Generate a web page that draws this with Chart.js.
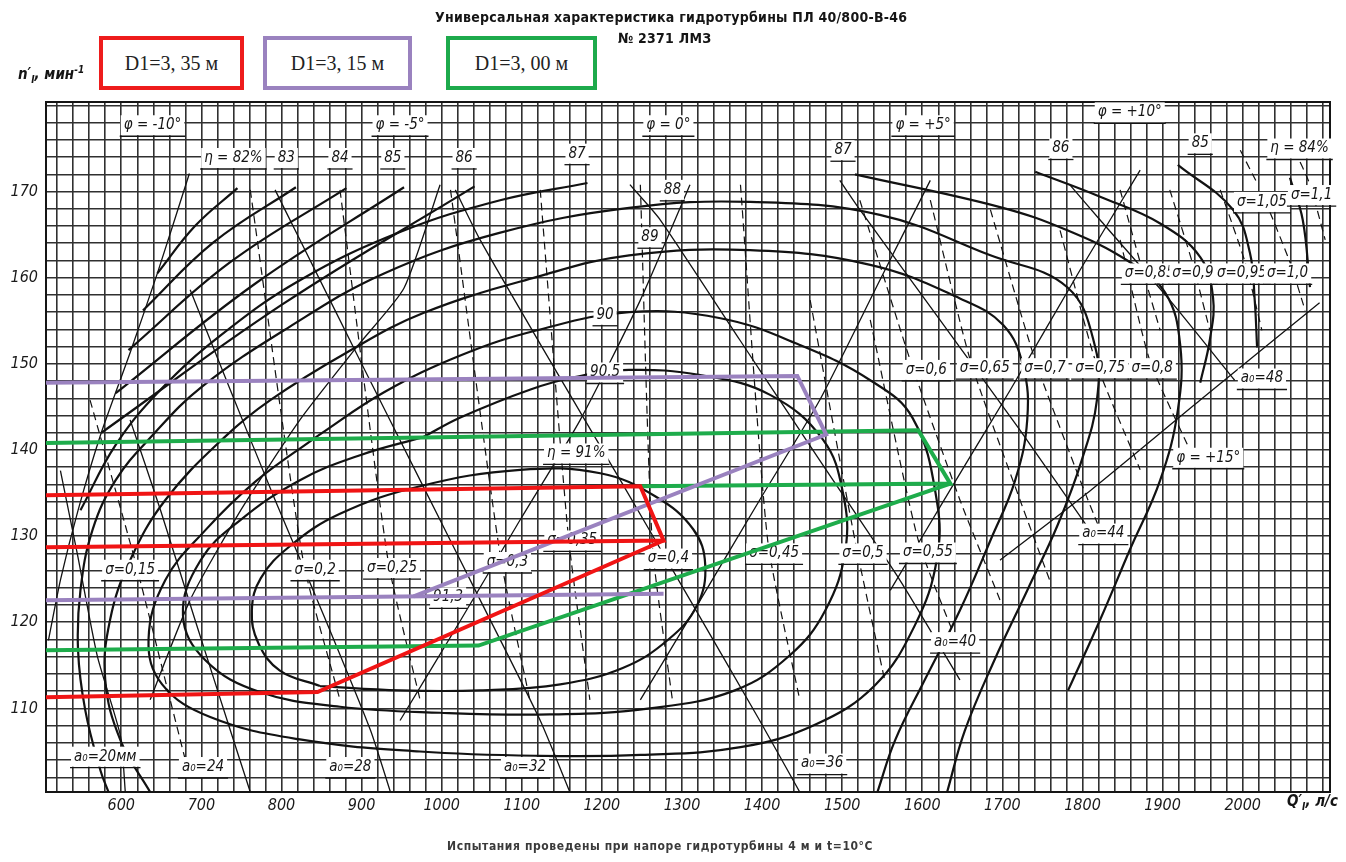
<!DOCTYPE html>
<html>
<head>
<meta charset="utf-8">
<script src="https://cdn.jsdelivr.net/npm/chart.js@4.4.1/dist/chart.umd.min.js"></script>
<style>
  html, body { margin: 0; padding: 0; background: #fff; }
  #wrap { position: relative; width: 1346px; height: 862px; overflow: hidden; background: #fff; }
  #c { position: absolute; left: 0; top: 0; }
  .t { position: absolute; white-space: nowrap; color: #151515; }
  .title { font: bold 14px "DejaVu Sans Condensed", "DejaVu Sans", sans-serif; letter-spacing: 0.25px; }
  .box { position: absolute; box-sizing: border-box; height: 54px; top: 36px; border: 4px solid; background: #fff;
         font: 20px "Liberation Serif", serif; color: #222; display: flex; align-items: center; justify-content: center; }
  .axt { font: italic bold 15px "DejaVu Sans Condensed", "DejaVu Sans", sans-serif; }
  .axt sub, .axt sup { font-size: 10px; }
  .note { font: bold 12px "DejaVu Sans Condensed", "DejaVu Sans", sans-serif; color: #3a3a3a; letter-spacing: 0.6px; }
</style>
</head>
<body>
<div id="wrap">
  <canvas id="c" width="1346" height="862"></canvas>
  <div class="t title" style="left:435px; top:9px;">Универсальная характеристика гидротурбины ПЛ 40/800-В-46</div>
  <div class="t title" style="left:618px; top:30px;">№ 2371 ЛМЗ</div>
  <div class="box" style="left:99px; width:145px; border-color:#ee1c1c;">D1=3, 35 м</div>
  <div class="box" style="left:263px; width:149px; border-color:#9a82bf;">D1=3, 15 м</div>
  <div class="box" style="left:446px; width:151px; border-color:#1daa4c;">D1=3, 00 м</div>
  <div class="t axt" style="left:18px; top:64px;">n′<sub>I</sub>, мин<sup>-1</sup></div>
  <div class="t axt" style="left:1287px; top:792px;">Q′<sub>I</sub>, л/с</div>
  <div class="t note" style="left:447px; top:839px;">Испытания проведены при напоре гидротурбины 4 м и t=10°C</div>
</div>
<script>
// ---- axes ----
const Q_MIN = 506, Q_MAX = 2109;      // Q'1, l/s
const N_MIN = 100.3, N_MAX = 180.4;   // n'1, rpm
const qTickLabels = [600, 700, 800, 900, 1000, 1100, 1200, 1300, 1400, 1500, 1600, 1700, 1800, 1900, 2000];
const nTickLabels = [110, 120, 130, 140, 150, 160, 170];

// ---- operating zones for three runner diameters ----
const redQ = [506, 1248, 1277, 506];
const redN = [134.75, 135.8, 129.5, 128.7];
const redLowQ = [1277, 845, 506];
const redLowN = [129.5, 111.9, 111.3];

const purpleQ = [506, 1444, 1480, 965];
const purpleN = [147.8, 148.6, 141.8, 123.0];
const purpleLowQ = [506, 1277];
const purpleLowN = [122.55, 123.3];

const greenQ = [506, 1595, 1635, 1248];
const greenN = [140.8, 142.3, 136.1, 135.8];
const greenLowQ = [1635, 1046, 506];
const greenLowN = [136.1, 117.3, 116.75];

// ---- efficiency contours ----
const eta91Q = [848, 798, 771, 763, 774, 810, 873, 973, 1098, 1198, 1267, 1314, 1329, 1319, 1283, 1226, 1148, 1048, 948, 848];
const eta91N = [112.6, 114.4, 117.6, 121.4, 125.1, 128.8, 132.6, 135.8, 137.7, 137.3, 134.6, 130.8, 126.7, 122.0, 118.0, 114.7, 112.8, 112.1, 112.1, 112.6];

const eta905Q = [977, 1024, 1110, 1168, 1234, 1323, 1410, 1476, 1501, 1504, 1479, 1435, 1366, 1260, 1135, 998, 873, 773, 705, 677, 699, 749, 823, 898, 977];
const eta905N = [141.5, 143.8, 147.0, 148.5, 149.3, 148.7, 146.4, 141.2, 135.0, 128.4, 121.4, 116.2, 112.1, 110.0, 109.3, 109.5, 110.2, 111.9, 115.6, 120.8, 127.2, 131.9, 136.5, 139.4, 141.5];

const eta90Q = [843, 928, 1024, 1119, 1234, 1348, 1447, 1535, 1588, 1618, 1618, 1591, 1541, 1466, 1373, 1248, 1123, 973, 823, 711, 651, 634, 655, 705, 767, 843];
const eta90N = [141.5, 146.7, 151.0, 153.9, 156.0, 155.3, 152.2, 148.1, 143.7, 134.2, 127.2, 119.7, 112.7, 108.1, 105.5, 104.6, 104.5, 105.0, 106.4, 109.0, 112.8, 118.0, 124.9, 130.7, 136.3, 141.5];

const eta89Q = [636, 599, 580, 586, 611, 655, 729, 786, 881, 977, 1119, 1234, 1385, 1535, 1647, 1701, 1726, 1731, 1716, 1685, 1647, 1603, 1566, 1544];
const eta89N = [100.3, 106.3, 113.3, 120.3, 127.2, 134.2, 141.5, 145.8, 151.3, 155.9, 160.1, 162.6, 163.2, 161.5, 157.6, 154.5, 149.7, 143.5, 136.5, 129.5, 121.4, 113.3, 106.3, 100.3];

const eta88Q = [584, 574, 555, 546, 549, 564, 593, 637, 700, 810, 928, 1072, 1234, 1385, 1547, 1685, 1781, 1816, 1818, 1799, 1769, 1731, 1690, 1653, 1631];
const eta88N = [100.3, 102.8, 109.8, 116.8, 123.7, 130.7, 136.5, 141.5, 147.3, 154.3, 160.5, 165.2, 168.1, 168.8, 167.3, 162.6, 158.9, 151.9, 145.8, 138.8, 131.3, 123.7, 115.6, 107.4, 100.3];

const eta87Q = [1182, 1073, 948, 823, 724, 649, 593, 549];
const eta87N = [171.0, 169.0, 165.3, 159.7, 153.3, 147.0, 140.6, 133.0];
const eta86Q = [1041, 801, 575];
const eta86N = [170.6, 156.9, 142.0];
const eta85Q = [953, 767, 593];
const eta85N = [170.5, 159.3, 146.6];
const eta84Q = [881, 736, 609];
const eta84N = [170.4, 161.8, 151.6];
const eta83Q = [818, 715, 627];
const eta83N = [170.5, 164.1, 156.2];
const eta82Q = [745, 692, 645];
const eta82N = [170.4, 166.0, 160.5];

const eta87rQ = [1516, 1697, 1781, 1856, 1903, 1922, 1919, 1897, 1859, 1822, 1782];
const eta87rN = [172.0, 168.2, 165.5, 162.0, 158.3, 152.2, 144.6, 136.5, 128.4, 120.3, 112.1];
const eta86rQ = [1741, 1822, 1897, 1947, 1963, 1959, 1947];
const eta86rN = [172.3, 169.4, 166.3, 162.4, 157.7, 152.8, 147.8];
const eta85rQ = [1919, 1988, 2009, 2015, 2018];
const eta85rN = [173.1, 167.9, 162.9, 157.4, 151.9];
const eta84rQ = [2059, 2075, 2084];
const eta84rN = [171.6, 166.7, 158.9];

// ---- blade angle lines (phi) ----
const phiQ = [
  [685, 645, 611, 575, 546, 524, 509],
  [998, 953, 896, 823, 749, 686, 636],
  [1310, 1248, 1173, 1098, 1024, 948],
  [1610, 1547, 1472, 1397, 1323, 1248],
  [1872, 1797, 1710, 1635, 1560],
  [2096, 1947, 1806, 1697]
];
const phiN = [
  [172.1, 160.5, 151.3, 142.0, 133.0, 124.9, 117.9],
  [170.8, 158.8, 152.2, 143.5, 133.0, 122.6, 111.0],
  [170.8, 157.4, 143.5, 131.9, 120.3, 108.6],
  [171.3, 159.7, 145.8, 134.2, 122.6, 111.0],
  [172.5, 160.9, 147.0, 135.4, 123.7],
  [157.1, 145.8, 135.0, 127.2]
];

// ---- guide vane opening lines (a0) ----
const a0Q = [
  [605, 599, 570, 545, 524],
  [761, 736, 692, 649, 611],
  [936, 911, 855, 792, 736, 686],
  [1160, 1123, 1048, 973, 898, 823, 792],
  [1447, 1397, 1310, 1223, 1135, 1048, 1017],
  [1647, 1572, 1472, 1372, 1273, 1235],
  [1809, 1722, 1622, 1522, 1497],
  [1990, 1909, 1822, 1784]
];
const a0N = [
  [100.3, 106.8, 116.1, 128.0, 137.6],
  [100.3, 107.5, 120.3, 133.0, 143.5],
  [100.3, 107.5, 120.3, 134.2, 147.0, 158.6],
  [100.3, 108.6, 122.6, 136.5, 150.4, 164.4, 170.2],
  [100.3, 108.6, 122.6, 136.5, 150.4, 164.4, 170.2],
  [113.3, 124.9, 138.8, 152.8, 166.7, 170.8],
  [130.7, 142.3, 155.1, 167.9, 171.3],
  [148.1, 157.4, 166.7, 170.8]
];

// ---- cavitation coefficient lines (sigma) ----
const sigmaQ = [
  [561, 617, 661, 680], [761, 827, 873], [873, 933, 973], [1011, 1073, 1110], [1123, 1158, 1185],
  [1248, 1263, 1288], [1373, 1407, 1447], [1460, 1516, 1553], [1535, 1595, 1647],
  [1522, 1585, 1647, 1697], [1610, 1660, 1722, 1759], [1685, 1741, 1797, 1822], [1772, 1816, 1872], [1847, 1884, 1934],
  [1847, 1872, 1897], [1909, 1937, 1959], [1972, 2003, 2024], [2028, 2059, 2078],
  [1997, 2019], [2065, 2084, 2103]
];
const sigmaN = [
  [145.8, 127.2, 111.0, 104.0], [170.2, 127.2, 111.0], [170.2, 127.2, 111.0], [170.2, 127.8, 111.0], [170.2, 130.1, 111.0],
  [170.8, 129.0, 111.0], [170.8, 129.5, 111.0], [157.4, 129.5, 113.3], [155.1, 129.5, 116.8],
  [169.0, 150.4, 134.2, 122.6], [169.0, 150.4, 134.2, 124.9], [167.9, 150.4, 136.5, 130.7], [165.5, 150.4, 137.7], [164.4, 150.4, 140.0],
  [170.2, 161.8, 153.9], [170.2, 161.8, 153.9], [170.2, 161.8, 153.9], [169.0, 161.8, 156.2],
  [174.8, 170.8], [174.8, 170.8, 164.4]
];

// ---- curve captions: text, Q'1, n'1 ----
const captions = [
  ['φ = -10°', 639, 177.7], ['φ = -5°', 948, 177.7], ['φ = 0°', 1283, 177.7], ['φ = +5°', 1601, 177.7],
  ['φ = +10°', 1859, 179.2], ['φ = +15°', 1957, 139.1],
  ['η = 82%', 740, 173.9], ['83', 806, 173.9], ['84', 873, 173.9], ['85', 939, 173.9], ['86', 1028, 173.9], ['87', 1169, 174.4],
  ['88', 1288, 170.2], ['89', 1260, 164.7], ['90', 1204, 155.7], ['90,5', 1204, 149.0], ['η = 91%', 1168, 139.6], ['91,3', 1008, 122.9],
  ['87', 1501, 174.8], ['86', 1773, 175.0], ['85', 1947, 175.6], ['η = 84%', 2071, 175.0],
  ['σ=0,15', 611, 126.1], ['σ=0,2', 842, 126.1], ['σ=0,25', 938, 126.3], ['σ=0,3', 1082, 127.0], ['σ=0,35', 1163, 129.5],
  ['σ=0,4', 1283, 127.4], ['σ=0,45', 1415, 128.0], ['σ=0,5', 1526, 128.0], ['σ=0,55', 1607, 128.1],
  ['σ=0,6', 1605, 149.3], ['σ=0,65', 1678, 149.5], ['σ=0,7', 1753, 149.5], ['σ=0,75', 1822, 149.5], ['σ=0,8', 1887, 149.5],
  ['σ=0,85', 1884, 160.5], ['σ=0,9', 1938, 160.5], ['σ=0,95', 1999, 160.5], ['σ=1,0', 2056, 160.5],
  ['σ=1,05', 2024, 168.8], ['σ=1,1', 2086, 169.6],
  ['a₀=20мм', 580, 104.4], ['a₀=24', 702, 103.2], ['a₀=28', 886, 103.2], ['a₀=32', 1104, 103.2], ['a₀=36', 1475, 103.6],
  ['a₀=40', 1641, 117.7], ['a₀=44', 1826, 130.3], ['a₀=48', 2024, 148.3]
];

// ---- build datasets ----
const pts = (qs, ns) => qs.map((q, i) => ({ x: q, y: ns[i] }));
const datasets = [];
function overlay(qs, ns, color) {
  datasets.push({ data: pts(qs, ns), borderColor: color, borderWidth: 4, tension: 0, order: 0, overlay: true });
}
function curve(qs, ns, width, dash, tension) {
  datasets.push({ data: pts(qs, ns), borderColor: '#121212', borderWidth: width, borderDash: dash || [], tension: tension, order: 5 });
}
overlay(redQ, redN, '#f01414');
overlay(redLowQ, redLowN, '#f01414');
overlay(purpleQ, purpleN, '#9a82bf');
overlay(purpleLowQ, purpleLowN, '#9a82bf');
overlay(greenQ, greenN, '#1eac4b');
overlay(greenLowQ, greenLowN, '#1eac4b');

[[eta91Q, eta91N], [eta905Q, eta905N], [eta90Q, eta90N], [eta89Q, eta89N], [eta88Q, eta88N], [eta87Q, eta87N],
 [eta86Q, eta86N], [eta85Q, eta85N], [eta84Q, eta84N], [eta83Q, eta83N], [eta82Q, eta82N],
 [eta87rQ, eta87rN], [eta86rQ, eta86rN], [eta85rQ, eta85rN], [eta84rQ, eta84rN]]
  .forEach(([q, n]) => curve(q, n, 2.2, null, 0.4));
phiQ.forEach((q, i) => curve(q, phiN[i], 1.3, null, 0.2));
a0Q.forEach((q, i) => curve(q, a0N[i], 1.3, null, 0.2));
sigmaQ.forEach((q, i) => curve(q, sigmaN[i], 1.2, [8, 5], 0.2));

// ---- plugins ----
const CAPTION_FONT = 'italic 15px "DejaVu Sans Condensed", "DejaVu Sans", sans-serif';
function drawCaptions(chart) {
  const { ctx, scales: { x, y } } = chart;
  ctx.save();
  ctx.font = CAPTION_FONT;
  ctx.textAlign = 'center';
  ctx.textBaseline = 'middle';
  captions.forEach(([text, q, n]) => {
    const px = x.getPixelForValue(q), py = y.getPixelForValue(n);
    const w = ctx.measureText(text).width;
    ctx.fillStyle = '#fff';
    ctx.fillRect(px - w / 2 - 3, py - 10, w + 6, 20);
    ctx.fillStyle = '#151515';
    ctx.fillText(text, px, py);
    ctx.strokeStyle = '#151515';
    ctx.lineWidth = 1.3;
    ctx.beginPath();
    ctx.moveTo(px - w / 2 - 4, py + 11);
    ctx.lineTo(px + w / 2 + 4, py + 11);
    ctx.stroke();
  });
  ctx.restore();
}
const captionPlugin = {
  id: 'captions',
  beforeDraw(chart) { chart.$captionsDone = false; },
  beforeDatasetDraw(chart, args) {
    if (!chart.$captionsDone && chart.data.datasets[args.index].overlay) {
      drawCaptions(chart);
      chart.$captionsDone = true;
    }
  },
  afterDatasetsDraw(chart) {
    if (!chart.$captionsDone) { drawCaptions(chart); chart.$captionsDone = true; }
  }
};
const framePlugin = {
  id: 'frame',
  beforeDatasetsDraw(chart) {
    const { ctx, chartArea: a } = chart;
    ctx.save();
    ctx.strokeStyle = '#151515';
    ctx.lineWidth = 2;
    ctx.strokeRect(a.left, a.top, a.right - a.left, a.bottom - a.top);
    ctx.restore();
  }
};

const qGrid = [], nGrid = [];
for (let v = 520; v <= 2100; v += 20) qGrid.push(v);
for (let v = 102; v <= 180; v += 2) nGrid.push(v);
const tickFont = { family: '"DejaVu Sans Condensed", "DejaVu Sans", sans-serif', size: 16, style: 'italic' };

new Chart(document.getElementById('c'), {
  type: 'scatter',
  data: { datasets },
  options: {
    responsive: false,
    animation: false,
    devicePixelRatio: 1,
    layout: { padding: { left: 0, top: 102, right: 16, bottom: 0 } },
    plugins: { legend: { display: false }, tooltip: { enabled: false } },
    elements: { point: { radius: 0 }, line: { fill: false } },
    datasets: { scatter: { showLine: true, pointRadius: 0 } },
    scales: {
      x: {
        type: 'linear', min: Q_MIN, max: Q_MAX,
        afterFit(s) { s.height = 70; },
        afterBuildTicks(s) { s.ticks = qGrid.map(v => ({ value: v })); },
        ticks: { autoSkip: false, maxRotation: 0, padding: 4, color: '#1a1a1a', font: tickFont,
                 callback: v => qTickLabels.includes(v) ? String(v) : '' },
        grid: { color: '#303030', lineWidth: 1.6, drawTicks: false, tickLength: 0 },
        border: { display: false }
      },
      y: {
        type: 'linear', min: N_MIN, max: N_MAX,
        afterFit(s) { s.width = 46; },
        afterBuildTicks(s) { s.ticks = nGrid.map(v => ({ value: v })); },
        ticks: { autoSkip: false, padding: 8, color: '#1a1a1a', font: tickFont,
                 callback: v => nTickLabels.includes(v) ? String(v) : '' },
        grid: { color: '#303030', lineWidth: 1.6, drawTicks: false, tickLength: 0 },
        border: { display: false }
      }
    }
  },
  plugins: [framePlugin, captionPlugin]
});
</script>
</body>
</html>
